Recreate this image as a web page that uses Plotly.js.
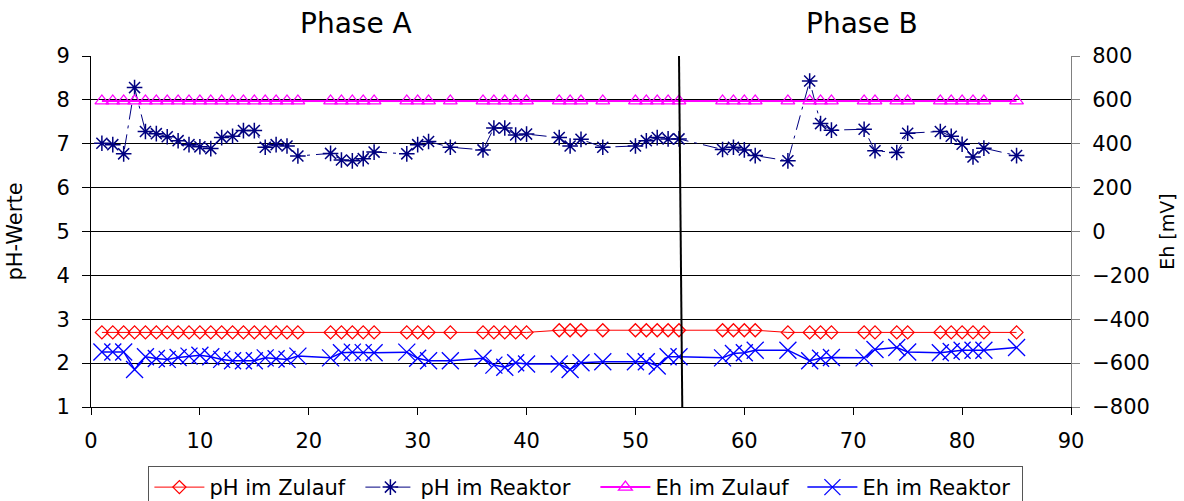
<!DOCTYPE html>
<html>
<head>
<meta charset="utf-8">
<script src="https://cdn.plot.ly/plotly-3.0.1.min.js"></script>
<style>html,body{margin:0;padding:0;background:#fff;}#chart{width:1184px;height:501px;}</style>
</head>
<body>
<div id="chart"></div>
<script>
const days = [1,2,3,4,5,6,7,8,9,10,11,12,13,14,15,16,17,18,19,
  22,23,24,25,26,29,30,31,33,36,37,38,39,40,43,44,45,47,50,51,52,53,54,
  58,59,60,61,64,66,67,68,71,72,74,75,78,79,80,81,82,85];

const phZulauf = [2.70,2.70,2.70,2.70,2.70,2.70,2.70,2.70,2.70,2.70,2.70,2.70,2.70,2.70,2.70,2.70,2.70,2.70,2.70,
  2.70,2.70,2.70,2.70,2.70,2.70,2.70,2.70,2.70,2.70,2.70,2.70,2.70,2.70,
  2.75,2.75,2.75,2.75,2.75,2.75,2.75,2.75,2.75,2.75,2.75,2.75,2.75,
  2.70,2.70,2.70,2.70,2.70,2.70,2.70,2.70,2.70,2.70,2.70,2.70,2.70,2.70];

const phReaktor = [7.01,6.98,6.77,8.28,7.28,7.23,7.16,7.07,6.98,6.93,6.89,7.14,7.17,7.30,7.30,6.92,6.98,6.95,6.72,
  6.78,6.63,6.61,6.66,6.81,6.77,6.98,7.05,6.92,6.86,7.36,7.36,7.20,7.22,
  7.14,6.95,7.10,6.92,6.95,7.07,7.14,7.11,7.11,
  6.87,6.92,6.86,6.73,6.61,8.43,7.46,7.31,7.33,6.84,6.80,7.24,7.28,7.17,6.99,6.70,6.90,6.73];

const ehZulauf = [595,595,595,595,595,595,595,595,595,595,595,595,595,595,595,595,595,595,595,
  595,595,595,595,595,595,595,595,595,595,595,595,595,595,595,595,595,595,595,595,595,595,595,
  595,595,595,595,595,595,595,595,595,595,595,595,595,595,595,595,595,595];

const ehReaktor = [-549,-549,-549,-629,-571,-579,-583,-574,-568,-564,-571,-583,-589,-589,-589,-576,-580,-583,-568,
  -576,-553,-550,-552,-553,-550,-578,-589,-589,-578,-609,-619,-598,-604,
  -604,-629,-598,-594,-594,-594,-613,-571,-571,
  -576,-556,-553,-541,-541,-589,-578,-574,-576,-538,-529,-549,-553,-547,-541,-541,-541,-529];

const seriesNames = ["pH im Zulauf", "pH im Reaktor", "Eh im Zulauf", "Eh im Reaktor"];
const phTicks = [1,2,3,4,5,6,7,8,9];
const phGridVals = [2,3,4,5,6,7,8];
const phaseLabels = ["Phase A", "Phase B"];
const phaseCenters = [24.3, 70.8];
const phaseBoundary = [54.0, 54.3];

const FONT = "DejaVu Sans, Arial, sans-serif";
const legendWidths = [146, 170, 142, 155];

const traces = [
  {x: [], y: [], yaxis: "y3", type: "scatter", mode: "markers", showlegend: false, hoverinfo: "skip"},
  {x: days, y: phZulauf, name: seriesNames[0], type: "scatter", mode: "lines+markers", legendwidth: legendWidths[0],
   line: {color: "#FF0000", width: 1},
   marker: {symbol: "diamond-open", size: 10, color: "#FF0000", line: {color: "#FF0000", width: 1.3}}},
  {x: days, y: phReaktor, name: seriesNames[1], type: "scatter", mode: "lines+markers", legendwidth: legendWidths[1],
   line: {color: "#000080", width: 1, dash: "longdashdot"},
   marker: {symbol: "asterisk-open", size: 13, color: "#000080", line: {color: "#000080", width: 1.5}}},
  {x: days, y: ehZulauf, name: seriesNames[2], type: "scatter", mode: "lines+markers", yaxis: "y2", legendwidth: legendWidths[2],
   line: {color: "#FF00FF", width: 2},
   marker: {symbol: "triangle-up-open", size: 12, color: "#FF00FF", line: {color: "#FF00FF", width: 1.3}}},
  {x: days, y: ehReaktor, name: seriesNames[3], type: "scatter", mode: "lines+markers", yaxis: "y2", legendwidth: legendWidths[3],
   line: {color: "#0000FF", width: 1.5},
   marker: {symbol: "x-thin-open", size: 17, color: "#0000FF", line: {color: "#0000FF", width: 1.3}}}
];

const layout = {
  width: 1184, height: 501,
  margin: {l: 91, r: 113, t: 56, b: 94, autoexpand: false},
  paper_bgcolor: "#ffffff", plot_bgcolor: "#ffffff",
  font: {family: FONT, size: 21, color: "#000"},
  showlegend: true,
  legend: {orientation: "h", x: 0.505, xanchor: "center", y: -0.168, yanchor: "top",
    font: {family: FONT, size: 21, color: "#000"}, bordercolor: "#555", borderwidth: 1,
    bgcolor: "#fff", itemwidth: 50, traceorder: "normal"},
  xaxis: {range: [0, 90], dtick: 10, tick0: 0, showgrid: false, zeroline: false,
    showline: true, linecolor: "#000", linewidth: 1, ticks: "outside", ticklen: 7,
    tickcolor: "#000", tickfont: {family: FONT, size: 21}, ticklabelstandoff: 8},
  yaxis: {range: [1, 9], tickvals: phTicks, showgrid: false,
    zeroline: false, showline: true, linecolor: "#000", linewidth: 1, ticks: "outside",
    ticklen: 8, tickcolor: "#000", tickfont: {family: FONT, size: 21}, ticklabelstandoff: 8,
    title: {text: "pH-Werte", font: {family: FONT, size: 21}, standoff: 28}},
  yaxis3: {range: [1, 9], tickvals: phGridVals, overlaying: "y", anchor: "x", side: "left",
    showgrid: true, gridcolor: "#000", gridwidth: 1, showticklabels: false, ticks: "",
    showline: false, zeroline: false},
  yaxis2: {range: [-800, 800], dtick: 200, tick0: -800, overlaying: "y", side: "right",
    showgrid: false, zeroline: false, showline: true, linecolor: "#808080", linewidth: 1,
    ticks: "outside", ticklen: 8, tickcolor: "#808080", tickfont: {family: FONT, size: 21},
    ticklabelstandoff: 8,
    title: {text: "Eh [mV]", font: {family: FONT, size: 19}, standoff: 11}},
  shapes: [
    {type: "line", xref: "x", yref: "y", x0: phaseBoundary[0], y0: 9, x1: phaseBoundary[1], y1: 1,
     line: {color: "#000", width: 2}}
  ],
  annotations: phaseLabels.map((t, i) => ({
    text: t, xref: "x", yref: "paper", x: phaseCenters[i], y: 1.094,
    xanchor: "center", yanchor: "middle", showarrow: false,
    font: {family: FONT, size: 28, color: "#000"}
  }))
};

Plotly.newPlot("chart", traces, layout, {displayModeBar: false, staticPlot: true});
</script>
</body>
</html>
